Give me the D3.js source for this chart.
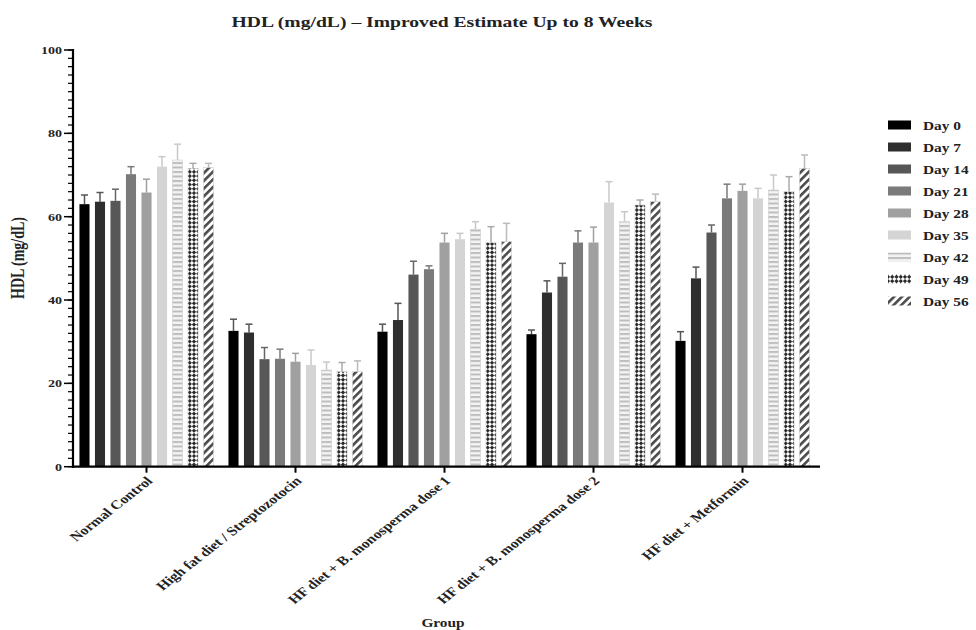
<!DOCTYPE html>
<html>
<head>
<meta charset="utf-8">
<script src="https://cdn.jsdelivr.net/npm/d3@7"></script>
<style>
  html, body { margin: 0; padding: 0; background: #fff; }
  svg { display: block; }
  text { font-family: "Liberation Serif", "DejaVu Serif", serif; font-weight: bold; }
</style>
</head>
<body>
<svg id="chart" width="976" height="630"></svg>
<script>
const groups = ["Normal Control", "High fat diet / Streptozotocin", "HF diet + B. monosperma dose 1", "HF diet + B. monosperma dose 2", "HF diet + Metformin"];
const days = ["Day 0", "Day 7", "Day 14", "Day 21", "Day 28", "Day 35", "Day 42", "Day 49", "Day 56"];
// mean values per group, ordered by day
const meanNormal   = [63.0, 63.6, 63.8, 70.2, 65.8, 72.0, 73.6, 71.6, 71.8];
const meanHFD      = [32.6, 32.2, 25.8, 25.9, 25.2, 24.4, 23.2, 22.8, 22.8];
const meanDose1    = [32.4, 35.2, 46.1, 47.4, 53.8, 54.6, 57.0, 53.8, 54.0];
const meanDose2    = [31.8, 41.8, 45.6, 53.8, 53.8, 63.4, 58.8, 62.8, 63.6];
const meanMetformin= [30.2, 45.2, 56.2, 64.4, 66.2, 64.4, 66.4, 66.0, 71.6];
// error bar (upper SD) magnitudes
const errNormal    = [2.2, 2.2, 2.8, 1.8, 3.2, 2.4, 3.8, 1.2, 1.0];
const errHFD       = [2.8, 2.0, 2.8, 2.3, 2.0, 3.6, 1.9, 2.2, 2.6];
const errDose1     = [1.8, 4.0, 3.2, 0.8, 2.2, 1.4, 1.8, 3.8, 4.4];
const errDose2     = [1.0, 2.8, 3.2, 2.8, 3.7, 5.0, 2.4, 1.2, 1.8];
const errMetformin = [2.2, 2.7, 1.8, 3.4, 1.6, 2.4, 3.6, 3.6, 3.2];
const yTicks = [0, 20, 40, 60, 80, 100];

const means = [meanNormal, meanHFD, meanDose1, meanDose2, meanMetformin];
const errs = [errNormal, errHFD, errDose1, errDose2, errMetformin];

const SX = 1.28; // horizontal stretch of the reference picture

const svg = d3.select("#chart");
const defs = svg.append("defs");

// patterns
const p42 = defs.append("pattern").attr("id", "p42").attr("patternUnits", "userSpaceOnUse")
  .attr("width", 10).attr("height", 4.5);
p42.append("rect").attr("width", 10).attr("height", 4.5).attr("fill", "#f4f4f4");
p42.append("rect").attr("x", 0).attr("y", 0).attr("width", 10).attr("height", 2).attr("fill", "#bdbdbd");

const p49 = defs.append("pattern").attr("id", "p49").attr("patternUnits", "userSpaceOnUse")
  .attr("width", 6).attr("height", 6).attr("patternTransform", "rotate(45)");
p49.append("rect").attr("width", 6).attr("height", 6).attr("fill", "#ffffff");
p49.append("rect").attr("width", 3).attr("height", 3).attr("fill", "#2a2a2a");
p49.append("rect").attr("x", 3).attr("y", 3).attr("width", 3).attr("height", 3).attr("fill", "#2a2a2a");

const p56 = defs.append("pattern").attr("id", "p56").attr("patternUnits", "userSpaceOnUse")
  .attr("width", 5.5).attr("height", 5.5).attr("patternTransform", "rotate(45)");
p56.append("rect").attr("width", 5.5).attr("height", 5.5).attr("fill", "#ffffff");
p56.append("rect").attr("width", 2.6).attr("height", 5.5).attr("fill", "#4a4a4a");

const fills = ["#000000", "#2e2e2e", "#575757", "#7a7a7a", "#a0a0a0", "#d4d4d4", "url(#p42)", "url(#p49)", "url(#p56)"];
const errColors = ["#555555", "#555555", "#666666", "#7a7a7a", "#a0a0a0", "#c8c8c8", "#c8c8c8", "#aaaaaa", "#bbbbbb"];

const x0 = d3.scaleBand().domain(groups).range([72, 817]).paddingInner(0.1).paddingOuter(0.05);
const x1 = d3.scaleBand().domain(days).range([0, x0.bandwidth()]).paddingInner(0.35).paddingOuter(0);
const y = d3.scaleLinear().domain([0, 100]).range([466.7, 50]);

// bars
const gGroups = svg.append("g").selectAll("g").data(groups).join("g")
  .attr("transform", d => `translate(${x0(d)},0)`);

gGroups.each(function(g, gi) {
  const sel = d3.select(this);
  const data = days.map((d, di) => ({day: d, di, v: means[gi][di], e: errs[gi][di]}));
  // error bars
  const eb = sel.selectAll("g.err").data(data).join("g").attr("class", "err");
  eb.append("line")
    .attr("x1", d => x1(d.day) + x1.bandwidth() / 2)
    .attr("x2", d => x1(d.day) + x1.bandwidth() / 2)
    .attr("y1", d => y(d.v))
    .attr("y2", d => y(d.v + d.e))
    .attr("stroke", d => errColors[d.di]).attr("stroke-width", 1.5);
  eb.append("line")
    .attr("x1", d => x1(d.day) + x1.bandwidth() / 2 - 3.5)
    .attr("x2", d => x1(d.day) + x1.bandwidth() / 2 + 3.5)
    .attr("y1", d => y(d.v + d.e))
    .attr("y2", d => y(d.v + d.e))
    .attr("stroke", d => errColors[d.di]).attr("stroke-width", 1.5);
  sel.selectAll("rect.bar").data(data).join("rect").attr("class", "bar")
    .attr("x", d => x1(d.day))
    .attr("width", x1.bandwidth())
    .attr("y", d => y(d.v))
    .attr("height", d => y(0) - y(d.v))
    .attr("fill", d => fills[d.di])
    .attr("stroke", d => d.di >= 6 ? "#d0d0d0" : "none")
    .attr("stroke-width", 0.6);
});

// Y axis
const yMinor = d3.range(0, 101, 2);
const gy = svg.append("g");
gy.selectAll("line.minor").data(yMinor).join("line")
  .attr("x1", 68).attr("x2", 73).attr("y1", d => y(d)).attr("y2", d => y(d))
  .attr("stroke", "#000").attr("stroke-width", 1.2);
gy.selectAll("line.major").data(yTicks).join("line")
  .attr("x1", 64).attr("x2", 73).attr("y1", d => y(d)).attr("y2", d => y(d))
  .attr("stroke", "#000").attr("stroke-width", 1.5);
gy.selectAll("text").data(yTicks).join("text")
  .attr("transform", d => `translate(62,${y(d) + 4}) scale(${SX},1)`)
  .attr("text-anchor", "end").attr("font-size", 11).attr("fill", "#222")
  .text(d => d);
gy.append("line").attr("x1", 73).attr("x2", 73).attr("y1", y(100) - 1).attr("y2", y(0) + 1)
  .attr("stroke", "#000").attr("stroke-width", 2.2);

// X axis
const gx = svg.append("g");
gx.append("line").attr("x1", 72).attr("x2", 820).attr("y1", y(0)).attr("y2", y(0))
  .attr("stroke", "#000").attr("stroke-width", 2.2);
gx.selectAll("line.tick").data(groups).join("line")
  .attr("x1", d => x0(d) + x0.bandwidth() / 2).attr("x2", d => x0(d) + x0.bandwidth() / 2)
  .attr("y1", y(0)).attr("y2", y(0) + 6)
  .attr("stroke", "#000").attr("stroke-width", 2);
gx.selectAll("text").data(groups).join("text")
  .attr("transform", d => `translate(${x0(d) + x0.bandwidth() / 2 + 7},${y(0) + 15}) scale(${SX},1) rotate(-45)`)
  .attr("text-anchor", "end").attr("font-size", 12.5).attr("fill", "#222")
  .text(d => d);

// Title
svg.append("text").attr("x", 442).attr("y", 27).attr("text-anchor", "middle")
  .attr("font-size", 15).attr("textLength", 421).attr("lengthAdjust", "spacingAndGlyphs")
  .attr("fill", "#222")
  .text("HDL (mg/dL) – Improved Estimate Up to 8 Weeks");

// Axis titles
svg.append("text")
  .attr("transform", `translate(24,258) scale(${SX},1) rotate(-90)`)
  .attr("text-anchor", "middle").attr("font-size", 14).attr("fill", "#222")
  .text("HDL (mg/dL)");
svg.append("text")
  .attr("transform", `translate(443,627) scale(${SX},1)`)
  .attr("text-anchor", "middle").attr("font-size", 12).attr("fill", "#222")
  .text("Group");

// Legend
const lg = svg.append("g").selectAll("g").data(days).join("g")
  .attr("transform", (d, i) => `translate(888,${125 + i * 22})`);
lg.append("rect").attr("x", 0).attr("y", -4.5).attr("width", 23).attr("height", 9)
  .attr("fill", (d, i) => fills[i]);
lg.append("text")
  .attr("transform", `translate(35,4.5) scale(${SX},1)`)
  .attr("font-size", 12).attr("fill", "#222")
  .text(d => d);
</script>
</body>
</html>
